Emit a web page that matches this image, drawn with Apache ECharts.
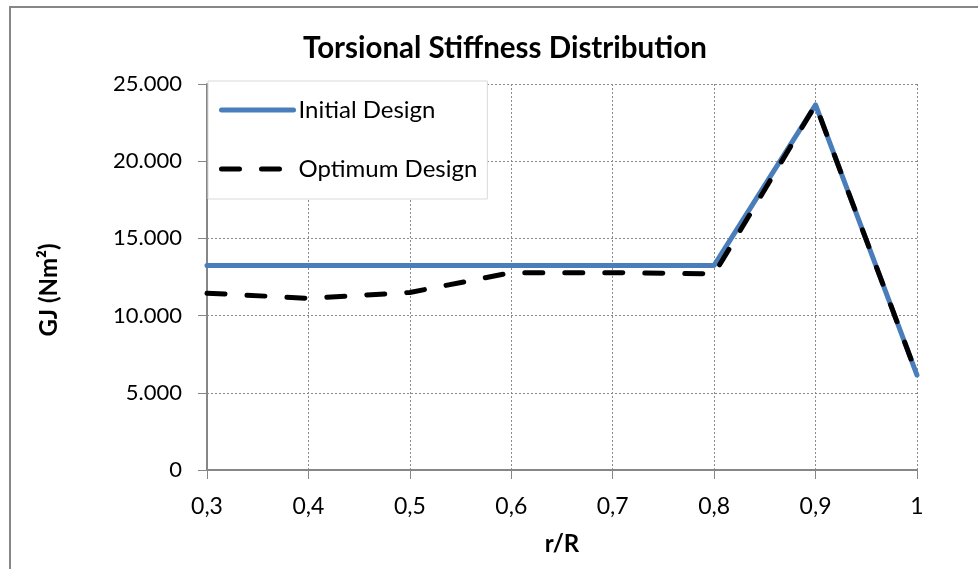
<!DOCTYPE html>
<html>
<head>
<meta charset="utf-8">
<script src="https://cdn.jsdelivr.net/npm/echarts@6/dist/echarts.min.js"></script>
<style>
html,body{margin:0;padding:0;background:#fff;}
#c{width:978px;height:569px;}
</style>
</head>
<body>
<div id="c"></div>
<script>
var categories = ['0,3','0,4','0,5','0,6','0,7','0,8','0,9','1'];
var initialDesign = [13250,13250,13250,13250,13250,13250,23650,6150];
var optimumDesign = [11450,11120,11500,12780,12780,12700,23650,6150];
var yTicks = {min:0, max:25000, interval:5000};

var FONT = 'Lato';
function fmt(v){
  var s = String(Math.round(v));
  return s.replace(/\B(?=(\d{3})+(?!\d))/g, '.');
}
var chart = echarts.init(document.getElementById('c'));
chart.setOption({
  animation:false,
  backgroundColor:'#fff',
  textStyle:{fontFamily:FONT},
  graphic:[{
    type:'rect', silent:true, z:-1,
    shape:{x:10,y:7,width:1000,height:620},
    style:{fill:'#fff',stroke:'#878787',lineWidth:2}
  }],
  title:{
    text:'Torsional Stiffness Distribution',
    left:298, top:28,
    textStyle:{fontFamily:FONT,fontSize:29.5,fontWeight:'bold',color:'#000'}
  },
  legend:{
    orient:'vertical', left:208, top:81,
    backgroundColor:'#fff', borderColor:'#d9d9d9', borderWidth:1,
    padding:[14,10,15,11],
    itemWidth:72, itemHeight:14, itemGap:29,
    itemStyle:{opacity:0},
    lineStyle:{width:5,cap:'round'},
    textStyle:{fontFamily:FONT,fontSize:24,color:'#000',lineHeight:30},
    data:['Initial Design','Optimum Design']
  },
  grid:{left:207,right:61,top:84,bottom:99,containLabel:false},
  xAxis:{
    type:'category', data:categories, boundaryGap:false,
    name:'r/R', nameLocation:'middle', nameGap:62,
    nameTextStyle:{fontFamily:FONT,fontSize:24,fontWeight:'bold',color:'#000'},
    axisLine:{lineStyle:{color:'#868686',width:2}},
    axisTick:{show:true,length:9,lineStyle:{color:'#868686',width:1}},
    axisLabel:{fontFamily:FONT,fontSize:23,color:'#000',margin:25},
    splitLine:{show:true,lineStyle:{color:'#8a8a8a',type:[2,2],width:1}}
  },
  yAxis:{
    type:'value', min:yTicks.min, max:yTicks.max, interval:yTicks.interval,
    name:'GJ (Nm²)', nameLocation:'middle', nameGap:146, nameRotate:90,
    nameTextStyle:{fontFamily:FONT,fontSize:24,fontWeight:'bold',color:'#000',padding:[0,26,0,0]},
    axisLine:{show:true,lineStyle:{color:'#868686',width:2}},
    axisTick:{show:true,length:9,lineStyle:{color:'#868686',width:1}},
    axisLabel:{fontFamily:FONT,fontSize:22,color:'#000',margin:25,formatter:fmt},
    splitLine:{show:true,lineStyle:{color:'#8a8a8a',type:[2,2],width:1}}
  },
  series:[
    {name:'Initial Design',type:'line',data:initialDesign,symbol:'none',
     color:'#4a7ebb',
     lineStyle:{color:'#4a7ebb',width:5,cap:'round',join:'round'}},
    {name:'Optimum Design',type:'line',data:optimumDesign,symbol:'none',
     color:'#000',
     lineStyle:{color:'#000',width:5,type:[18,22],cap:'round',join:'round'}}
  ]
});
</script>
</body>
</html>
